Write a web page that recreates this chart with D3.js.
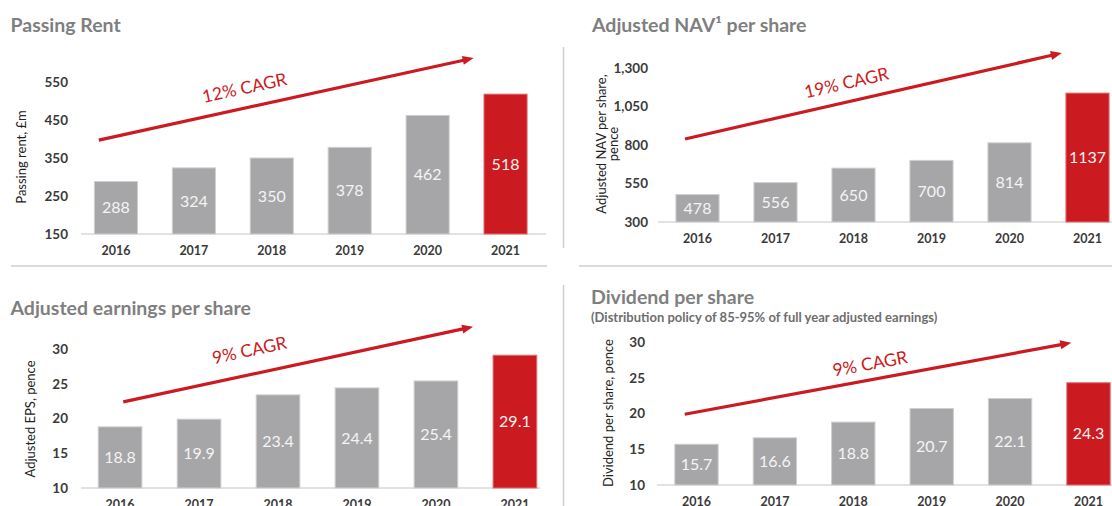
<!DOCTYPE html>
<html>
<head>
<meta charset="utf-8">
<script src="https://cdn.jsdelivr.net/npm/d3@7"></script>
<style>
body{margin:0;background:#fff;}
svg{display:block;font-family:Lato,"Open Sans",sans-serif;}
</style>
</head>
<body>
<script>
var years = ['2016','2017','2018','2019','2020','2021'];
var rentValues = [288,324,350,378,462,518];
var navValues = [478,556,650,700,814,1137];
var epsValues = [18.8,19.9,23.4,24.4,25.4,29.1];
var dpsValues = [15.7,16.6,18.8,20.7,22.1,24.3];
var rentTicks = [150,250,350,450,550];
var navTicks = [300,550,800,1050,1300];
var epsTicks = [10,15,20,25,30];
var dpsTicks = [10,15,20,25,30];
var cagrLabels = ['12% CAGR','19% CAGR','9% CAGR','9% CAGR'];
// trend arrows: [category index, value] for start and end
var rentArrow = [[-0.22,397],[4.59,613]];
var navArrow = [[-0.16,839],[4.67,1397]];
var epsArrow = [[0.04,22.4],[4.47,33.2]];
var dpsArrow = [[-0.15,19.9],[4.78,29.9]];

var RED = '#cc1a21', GREY = '#a6a6a8';

var svg = d3.select('body').append('svg').attr('width',1112).attr('height',506);

// separators
var sep = svg.append('g').attr('stroke','#cfcfcf').attr('stroke-width',1.5);
sep.append('line').attr('x1',11).attr('x2',547).attr('y1',266).attr('y2',266);
sep.append('line').attr('x1',579).attr('x2',1112).attr('y1',266).attr('y2',266);
sep.append('line').attr('x1',563.5).attr('x2',563.5).attr('y1',47).attr('y2',248);
sep.append('line').attr('x1',563.5).attr('x2',563.5).attr('y1',285).attr('y2',506);

var panels = [
  {title:'Passing Rent', yTitle:['Passing rent, £m'], values:rentValues, ticks:rentTicks, arrow:rentArrow, cagr:cagrLabels[0],
   tx:10.5, ty:32, band:[77,544.5], axis:[81,546], pad:13, y:[234,82], ytX:26, ytY:157, lt:0.40, lo:20},
  {title:'Adjusted NAV\u00b9 per share', yTitle:['Adjusted NAV per share,','pence'], values:navValues, ticks:navTicks, arrow:navArrow, cagr:cagrLabels[1],
   tx:592, ty:32, band:[658.5,1126.5], axis:[658,1112], pad:10, y:[222,68], ytX:612, ytY:144, lt:0.44, lo:19},
  {title:'Adjusted earnings per share', yTitle:['Adjusted EPS, pence'], values:epsValues, ticks:epsTicks, arrow:epsArrow, cagr:cagrLabels[2],
   tx:10.5, ty:315, band:[80.6,554.4], axis:[81,540], pad:13, y:[488,349], ytX:35, ytY:419, lt:0.375, lo:24},
  {title:'Dividend per share', sub:'(Distribution policy of 85-95% of full year adjusted earnings)', yTitle:['Dividend per share, pence'], values:dpsValues, ticks:dpsTicks, arrow:dpsArrow, cagr:cagrLabels[3],
   tx:591, ty:304, band:[657.3,1127.7], axis:[657,1112], pad:12, y:[485,342], ytX:612.5, ytY:413, lt:0.487, lo:16}
];

panels.forEach(function(p){
  var g = svg.append('g');
  var x = d3.scaleBand().domain(years).range(p.band).paddingInner(0.447).paddingOuter(0.2235);
  var y = d3.scaleLinear().domain([p.ticks[0], p.ticks[p.ticks.length-1]]).range(p.y);
  var base = y(p.ticks[0]);
  var bw = x.bandwidth();

  g.append('text').attr('x',p.tx).attr('y',p.ty).text(p.title)
    .attr('font-size',19.5).attr('font-weight',700).attr('fill','#7f7f7f');
  if(p.sub){
    g.append('text').attr('x',p.tx).attr('y',p.ty+18).text(p.sub)
      .attr('font-size',13).attr('font-weight',700).attr('fill','#6e6e6e');
  }

  // y axis title
  var yt = g.append('text').attr('transform','translate('+p.ytX+','+p.ytY+') rotate(-90)')
    .attr('text-anchor','middle').attr('font-size',13).attr('fill','#222');
  p.yTitle.forEach(function(t,i){
    yt.append('tspan').attr('x',0).attr('dy',i==0 ? (-(p.yTitle.length-1)*0.425)+'em' : '0.85em').text(t);
  });

  // y axis
  var ax = g.append('g').attr('transform','translate('+p.axis[0]+',0)')
    .call(d3.axisLeft(y).tickValues(p.ticks).tickSize(0).tickPadding(p.pad).tickFormat(d3.format(',')));
  ax.select('.domain').remove();
  ax.selectAll('text').attr('font-size',13.5).attr('fill','#3a3a3a').attr('font-family','Lato,"Open Sans",sans-serif').attr('font-weight',700);

  // baseline
  g.append('line').attr('x1',p.axis[0]).attr('x2',p.axis[1]).attr('y1',base).attr('y2',base)
    .attr('stroke','#d9d9d9').attr('stroke-width',1.5);

  // bars
  g.selectAll('rect.bar').data(p.values).enter().append('rect').attr('class','bar')
    .attr('x',function(d,i){return x(years[i]);})
    .attr('width',bw)
    .attr('y',function(d){return y(d);})
    .attr('height',function(d){return base - y(d);})
    .attr('fill',function(d,i){return i==years.length-1 ? RED : GREY;})
    .attr('stroke',function(d,i){return i==years.length-1 ? '#e06a6e' : '#cfcfd0';})
    .attr('stroke-width',1);

  g.selectAll('text.val').data(p.values).enter().append('text').attr('class','val')
    .attr('x',function(d,i){return x(years[i]) + bw/2;})
    .attr('y',function(d){return (y(d)+base)/2;})
    .attr('dy','0.35em').attr('text-anchor','middle')
    .attr('font-size',16).attr('fill','#f4f4f4')
    .text(function(d){return d;});

  // x labels
  g.selectAll('text.yr').data(years).enter().append('text').attr('class','yr')
    .attr('x',function(d){return x(d) + bw/2;})
    .attr('y',base + 21).attr('text-anchor','middle')
    .attr('font-size',12.5).attr('font-weight',700).attr('fill','#3a3a3a')
    .text(function(d){return d;});

  // trend arrow
  var step = x.step(), c0 = x(years[0]) + bw/2;
  var x0 = c0 + p.arrow[0][0]*step, y0 = y(p.arrow[0][1]);
  var x1 = c0 + p.arrow[1][0]*step, y1 = y(p.arrow[1][1]);
  var dx = x1-x0, dy = y1-y0, len = Math.sqrt(dx*dx+dy*dy);
  var ux = dx/len, uy = dy/len;
  var hl = 11, hw = 4.5;
  var bx = x1 - ux*hl, by = y1 - uy*hl;
  g.append('line').attr('x1',x0).attr('y1',y0).attr('x2',bx+ux*2).attr('y2',by+uy*2)
    .attr('stroke',RED).attr('stroke-width',3.2);
  g.append('path')
    .attr('d','M'+x1+','+y1+'L'+(bx - uy*hw)+','+(by + ux*hw)+'L'+(bx + uy*hw)+','+(by - ux*hw)+'Z')
    .attr('fill',RED);

  var ang = Math.atan2(dy,dx)*180/Math.PI;
  var lx = x0 + dx*p.lt + uy*p.lo, ly = y0 + dy*p.lt - ux*p.lo;
  g.append('text').attr('transform','translate('+lx+','+ly+') rotate('+ang+')')
    .attr('text-anchor','middle').attr('dy','0.35em')
    .attr('font-size',17.5).attr('fill',RED).text(p.cagr);
});
</script>
</body>
</html>
